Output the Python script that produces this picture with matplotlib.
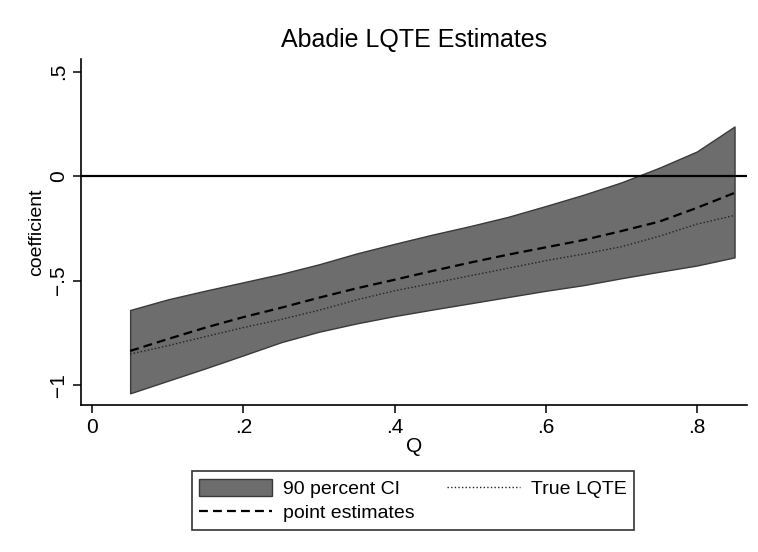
import numpy as np
import matplotlib.pyplot as plt
from matplotlib.patches import Patch
from matplotlib.lines import Line2D

plt.rcParams['font.family'] = ['Liberation Sans', 'DejaVu Sans']

# quantiles and estimates
q = [0.05, 0.10, 0.15, 0.20, 0.25, 0.30, 0.35, 0.40, 0.45,
     0.50, 0.55, 0.60, 0.65, 0.70, 0.75, 0.80, 0.85]
ci_upper = [-0.641, -0.590, -0.548, -0.508, -0.468, -0.422, -0.370, -0.324, -0.280,
            -0.239, -0.195, -0.143, -0.089, -0.030, 0.040, 0.118, 0.238]
ci_lower = [-1.040, -0.980, -0.920, -0.858, -0.795, -0.745, -0.705, -0.670, -0.639,
            -0.609, -0.579, -0.549, -0.522, -0.489, -0.458, -0.428, -0.389]
point_est = [-0.837, -0.780, -0.725, -0.675, -0.630, -0.582, -0.537, -0.496, -0.454,
             -0.414, -0.376, -0.341, -0.306, -0.263, -0.218, -0.152, -0.080]
true_lqte = [-0.852, -0.812, -0.768, -0.725, -0.686, -0.642, -0.592, -0.549, -0.513,
             -0.477, -0.441, -0.405, -0.373, -0.338, -0.288, -0.230, -0.188]

xticks = [0, 0.2, 0.4, 0.6, 0.8]
xtick_labels = ['0', '.2', '.4', '.6', '.8']
yticks = [-1, -0.5, 0, 0.5]
ytick_labels = ['\u22121', '\u2212.5', '0', '.5']

fill_col = '#6d6d6d'
dash = (0, (4, 2.3))
dots = (0, (1, 1.6))

fig = plt.figure(figsize=(7.58, 5.52), dpi=100)
ax = fig.add_axes([0.1065, 0.2663, 0.8785, 0.6267])

ax.fill_between(q, ci_lower, ci_upper, facecolor=fill_col, edgecolor='#3a3a3a', linewidth=1.0)
ax.plot(q, true_lqte, color='#222222', linestyle=dots, linewidth=1.0)
ax.plot(q, point_est, color='black', linestyle=dash, linewidth=1.6)
ax.axhline(0, color='black', linewidth=1.6)

ax.set_xlim(-0.0154, 0.866)
ax.set_ylim(-1.096, 0.561)

ax.spines['top'].set_visible(False)
ax.spines['right'].set_visible(False)
ax.spines['left'].set_linewidth(1.2)
ax.spines['bottom'].set_linewidth(1.2)

ax.set_xticks(xticks)
ax.set_xticklabels(xtick_labels)
ax.set_yticks(yticks)
ax.set_yticklabels(ytick_labels, rotation=90, va='center')
ax.tick_params(direction='out', length=6, width=1.1, labelsize=15, pad=3)

ax.set_xlabel('Q', fontsize=15, labelpad=0)
ax.set_ylabel('coefficient', fontsize=14, labelpad=3)
ax.set_title('Abadie LQTE Estimates', fontsize=18, pad=9)

handles = [Patch(facecolor=fill_col, edgecolor='#3a3a3a'),
           Line2D([], [], color='black', linestyle=dash, linewidth=1.6),
           Line2D([], [], color='#222222', linestyle=dots, linewidth=1.0)]
labels = ['90 percent CI', 'point estimates', 'True LQTE']
leg = fig.legend(handles, labels, ncol=2, loc='lower left',
                 bbox_to_anchor=(191.7 / 758, 1 - 530 / 552, 442.6 / 758, 63.3 / 552),
                 mode='expand', fontsize=14, handlelength=3.75, handleheight=0.95,
                 frameon=True, fancybox=False, borderpad=0.4, labelspacing=0.25,
                 handletextpad=0.55, borderaxespad=0)
leg.get_frame().set_edgecolor('black')
leg.get_frame().set_linewidth(1.2)

fig.savefig('out.png', dpi=100)
